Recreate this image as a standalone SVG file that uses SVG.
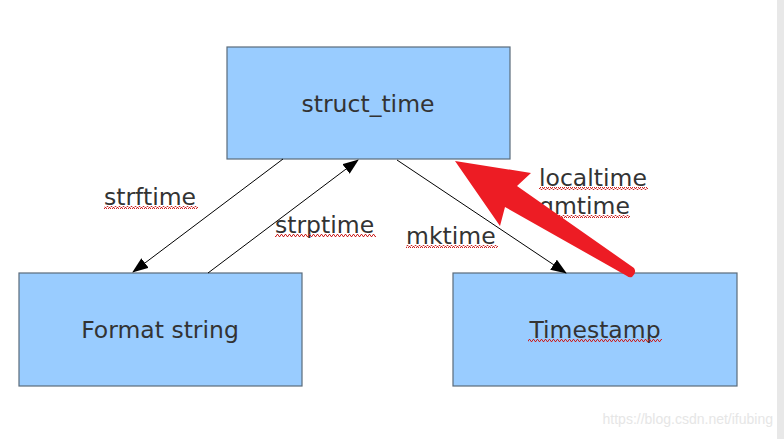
<svg xmlns="http://www.w3.org/2000/svg" width="784" height="439" viewBox="0 0 784 439">
<style>
.box{fill:#99ccff;stroke:#5a6b7b;stroke-width:1.2}
.t{font-family:"DejaVu Sans",sans-serif;font-size:23.5px;fill:#333333}
.lbl{font-family:"DejaVu Sans",sans-serif;font-size:23.5px;fill:#333333}
.c{stroke:#000;stroke-width:1;fill:none}
.sq{fill:url(#squig)}
</style>
<defs>
<marker id="ah" markerWidth="16" markerHeight="12" refX="15" refY="6" orient="auto" markerUnits="userSpaceOnUse">
<path d="M0,0 L16,6 L0,12 Z" fill="#000"/>
</marker>
<pattern id="squig" width="4" height="3" patternUnits="userSpaceOnUse">
<polyline points="0,2.5 1,0.5 2,0.5 3,2.5 4,2.5" fill="none" stroke="#cc2222" stroke-width="1"/>
</pattern>
</defs>
<rect x="0" y="0" width="784" height="439" fill="#ffffff"/>
<rect x="777" y="0" width="7" height="439" fill="#e8e8e8"/>
<g id="struct_time">
<rect class="box" x="227" y="47" width="283" height="112"/>
<text class="t" x="368" y="112" text-anchor="middle">struct_time</text>
</g>
<g id="format_string">
<rect class="box" x="19" y="273" width="283" height="113"/>
<text class="t" x="160" y="338" text-anchor="middle">Format string</text>
</g>
<g id="timestamp">
<rect class="box" x="453" y="273" width="284" height="113"/>
<text class="t" x="595" y="338" text-anchor="middle">Timestamp</text>
<rect class="sq" x="528" y="339" width="134" height="3"/>
</g>
<g id="connectors">
<line class="c" x1="283" y1="159" x2="133" y2="272" marker-end="url(#ah)"/>
<line class="c" x1="208" y1="273" x2="358" y2="160" marker-end="url(#ah)"/>
<line class="c" x1="397" y1="160" x2="566" y2="273" marker-end="url(#ah)"/>
<text class="lbl" x="104" y="205">strftime</text>
<rect class="sq" x="104" y="206" width="94" height="3"/>
<text class="lbl" x="275" y="233">strptime</text>
<rect class="sq" x="275" y="234" width="101" height="3"/>
<text class="lbl" x="406" y="244">mktime</text>
<rect class="sq" x="406" y="245" width="92" height="3"/>
<text class="lbl" x="539" y="186">localtime</text>
<rect class="sq" x="539" y="187" width="109" height="3"/>
<text class="lbl" x="539" y="214">gmtime</text>
<rect class="sq" x="539" y="215" width="91" height="3"/>
</g>
<g id="red_arrow">
<path d="M455,161 L531,173 L517,186 L634,268 Q637,273 632,277 Q629,278 627,276 L505,207 L500,226 Z" fill="#ed1c24"/>
</g>
<text x="773" y="424" text-anchor="end" font-family="Liberation Sans, Arial, sans-serif" font-size="14" fill="#e6e6e6">https://blog.csdn.net/ifubing</text>
</svg>
